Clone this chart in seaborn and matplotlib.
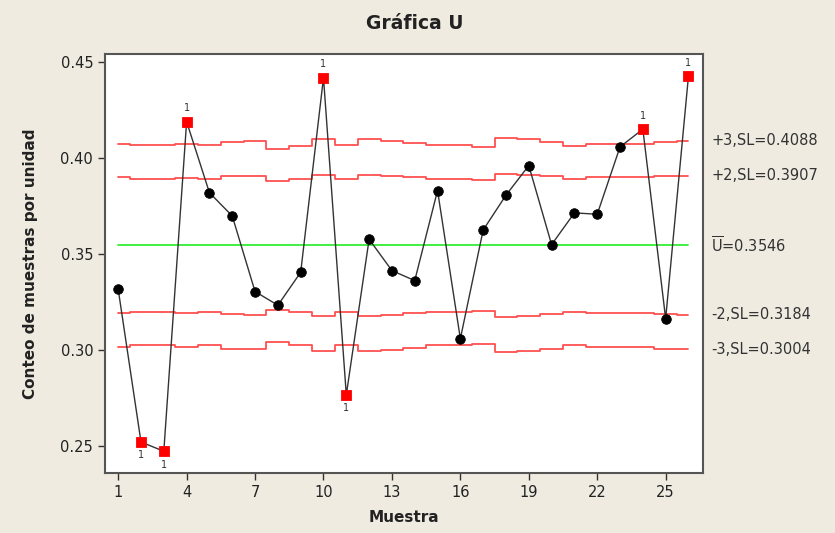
import matplotlib
matplotlib.use("Agg")
import matplotlib.pyplot as plt
import seaborn as sns
import numpy as np
import pandas as pd

sns.set_style("white")
plt.rcParams['font.family'] = ['DejaVu Sans']

# ---- data ----
muestra = list(range(1, 27))
u_vals = [0.3317, 0.2523, 0.2475, 0.4188, 0.3819, 0.3698, 0.3305, 0.3234, 0.3405,
          0.4417, 0.2768, 0.3577, 0.3414, 0.3362, 0.3830, 0.3060, 0.3625, 0.3806,
          0.3960, 0.3549, 0.3714, 0.3707, 0.4057, 0.4149, 0.3164, 0.4426]
u_bar = 0.3546
# upper 3-sigma limit per sample (stepped, varying subgroup size)
ucl3 = [0.4074, 0.4066, 0.4066, 0.4073, 0.4066, 0.4084, 0.4087, 0.4048, 0.4063,
        0.4097, 0.4066, 0.4097, 0.4089, 0.4078, 0.4065, 0.4065, 0.4058, 0.4102,
        0.4097, 0.4083, 0.4064, 0.4074, 0.4074, 0.4074, 0.4083, 0.4088]
out_flags = [0, 1, 1, 1, 0, 0, 0, 0, 0, 1, 1, 0, 0, 0, 0, 0, 0, 0, 0, 0, 0, 0, 0, 1, 0, 1]
x_ticks = [1, 4, 7, 10, 13, 16, 19, 22, 25]
y_ticks = [0.25, 0.30, 0.35, 0.40, 0.45]
right_labels = ["+3,SL=0.4088", "+2,SL=0.3907", "$\\mathregular{\\overline{U}}$=0.3546",
                "-2,SL=0.3184", "-3,SL=0.3004"]
right_vals = [0.4088, 0.3907, 0.3546, 0.3184, 0.3004]

df = pd.DataFrame({"Muestra": muestra, "U": u_vals, "ucl3": ucl3, "out": out_flags})
df["width"] = df["ucl3"] - u_bar
df["lcl3"] = u_bar - df["width"]
df["ucl2"] = u_bar + df["width"] * 2 / 3
df["lcl2"] = u_bar - df["width"] * 2 / 3
df["center"] = u_bar

bg = "#EFEBE1"
fig = plt.figure(figsize=(8.35, 5.33), dpi=100, facecolor=bg)
ax = fig.add_axes([0.1257, 0.1126, 0.842 - 0.1257, 0.898 - 0.1126])
ax.set_facecolor("white")

red = "#FF5050"
for col in ["ucl3", "ucl2", "lcl2", "lcl3"]:
    sns.lineplot(data=df, x="Muestra", y=col, drawstyle="steps-mid", color=red,
                 linewidth=1.3, ax=ax, zorder=2)
sns.lineplot(data=df, x="Muestra", y="center", color="#33EE33", linewidth=1.3, ax=ax, zorder=2)

sns.lineplot(data=df, x="Muestra", y="U", color="#333333", linewidth=1.0, ax=ax, zorder=3)
ins = df[df["out"] == 0]
outs = df[df["out"] == 1]
sns.scatterplot(data=ins, x="Muestra", y="U", color="black", marker="o", s=48,
                edgecolor="black", ax=ax, zorder=4)
sns.scatterplot(data=outs, x="Muestra", y="U", color="#FF0000", marker="s", s=55,
                edgecolor="#FF0000", ax=ax, zorder=4)
for _, r in outs.iterrows():
    if r["U"] > u_bar:
        ax.annotate("1", (r["Muestra"], r["U"]), xytext=(0, 6), textcoords="offset points",
                    ha="center", va="bottom", fontsize=7, color="#333333")
    else:
        ax.annotate("1", (r["Muestra"], r["U"]), xytext=(0, -6), textcoords="offset points",
                    ha="center", va="top", fontsize=7, color="#333333")

ax.set_xlim(0.42, 26.64)
ax.set_ylim(0.2362, 0.4538)
ax.set_xticks(x_ticks)
ax.set_yticks(y_ticks)
ax.set_yticklabels([f"{v:.2f}" for v in y_ticks])
ax.tick_params(axis="both", direction="out", length=5, width=1, color="#333333",
               labelsize=10.5, labelcolor="#222222", left=True, bottom=True)
for s in ax.spines.values():
    s.set_color("#555555")
    s.set_linewidth(1.5)

ax.set_xlabel("Muestra", fontsize=11, fontweight="bold", color="#222222", labelpad=7)
ax.set_ylabel("Conteo de muestras por unidad", fontsize=11, fontweight="bold",
              color="#222222", labelpad=16)
fig.text(0.497, 0.956, "Gráfica U", ha="center", va="center", fontsize=13.5,
         fontweight="bold", color="#222222",
         family=["Liberation Sans Narrow", "DejaVu Sans Condensed", "DejaVu Sans"])

for lab, v in zip(right_labels, right_vals):
    ax.annotate(lab, (1.0, v), xycoords=("axes fraction", "data"), xytext=(6, 0),
                textcoords="offset points", ha="left", va="center", fontsize=10.5,
                color="#333333")

fig.savefig("out.png", dpi=100, facecolor=bg)
